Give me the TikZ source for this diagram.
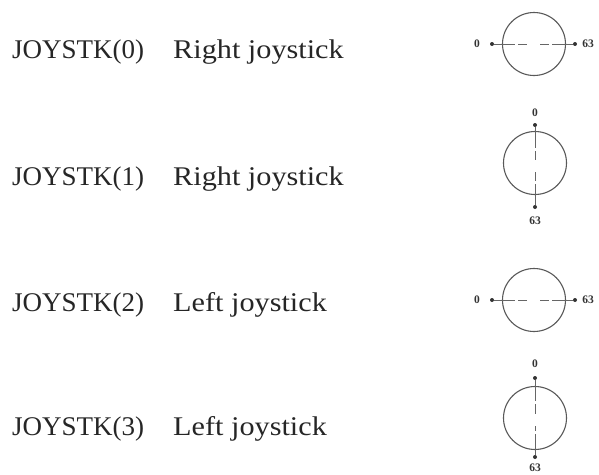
\documentclass[tikz,border=0pt]{standalone}
\usepackage{fontspec}
\setmainfont{Liberation Serif}
\newfontfamily\widefont[FakeStretch=1.12]{Liberation Serif}
\begin{document}
\begin{tikzpicture}[x=1pt,y=-1pt,
  lbl/.style={anchor=base west,inner sep=0pt,font=\fontsize{27}{27}\selectfont,text=black!85},
  desc/.style={anchor=base west,inner sep=0pt,font=\widefont\fontsize{27}{27}\selectfont,text=black!85},
  dial/.style={draw=black!65,line width=1.1pt,circle,minimum size=63pt,inner sep=0pt},
  axis/.style={draw=black!60,line width=0.9pt,dash pattern=on 21pt off 3pt on 40pt},
  tick/.style={circle,fill=black!80,inner sep=0pt,minimum size=4pt},
  num/.style={inner sep=0pt,font=\bfseries\fontsize{11.5}{11.5}\selectfont,text=black!80}]
\useasboundingbox (0,0) rectangle (599,474);
% row texts
\node[lbl] (j0) at (12,58) {JOYSTK(0)};
\node[desc] (r0) at (173,58) {Right joystick};
\node[lbl] (j1) at (12,185) {JOYSTK(1)};
\node[desc] (r1) at (173,185) {Right joystick};
\node[lbl] (j2) at (12,311) {JOYSTK(2)};
\node[desc] (r2) at (173,311) {Left joystick};
\node[lbl] (j3) at (12,435) {JOYSTK(3)};
\node[desc] (r3) at (173,435) {Left joystick};
% dial 0 (horizontal)
\node[dial] (c0) at (534,44) {};
\node[tick] (a0) at (492,44) {};
\node[tick] (b0) at (575,44) {};
\coordinate (a0e) at (527,44);
\coordinate (b0s) at (540,44);
\draw[axis] (a0) -- (a0e);
\draw[axis] (b0) -- (b0s);
\node[num] (n00) at (477,44) {0};
\node[num] (n01) at (588,44) {63};
% dial 1 (vertical)
\node[dial] (c1) at (535,163) {};
\node[tick] (a1) at (535,125) {};
\node[tick] (b1) at (535,207) {};
\coordinate (a1e) at (535,160);
\coordinate (b1s) at (535,172);
\draw[axis] (a1) -- (a1e);
\draw[axis] (b1) -- (b1s);
\node[num] (n10) at (535,113) {0};
\node[num] (n11) at (535,221) {63};
% dial 2 (horizontal)
\node[dial] (c2) at (534,300) {};
\node[tick] (a2) at (492,300) {};
\node[tick] (b2) at (575,300) {};
\coordinate (a2e) at (527,300);
\coordinate (b2s) at (540,300);
\draw[axis] (a2) -- (a2e);
\draw[axis] (b2) -- (b2s);
\node[num] (n20) at (477,300) {0};
\node[num] (n21) at (588,300) {63};
% dial 3 (vertical)
\node[dial] (c3) at (535,418) {};
\node[tick] (a3) at (535,378) {};
\node[tick] (b3) at (535,457) {};
\coordinate (a3e) at (535,414);
\coordinate (b3s) at (535,426);
\draw[axis] (a3) -- (a3e);
\draw[axis] (b3) -- (b3s);
\node[num] (n30) at (535,364) {0};
\node[num] (n31) at (535,468) {63};
\end{tikzpicture}
\end{document}
